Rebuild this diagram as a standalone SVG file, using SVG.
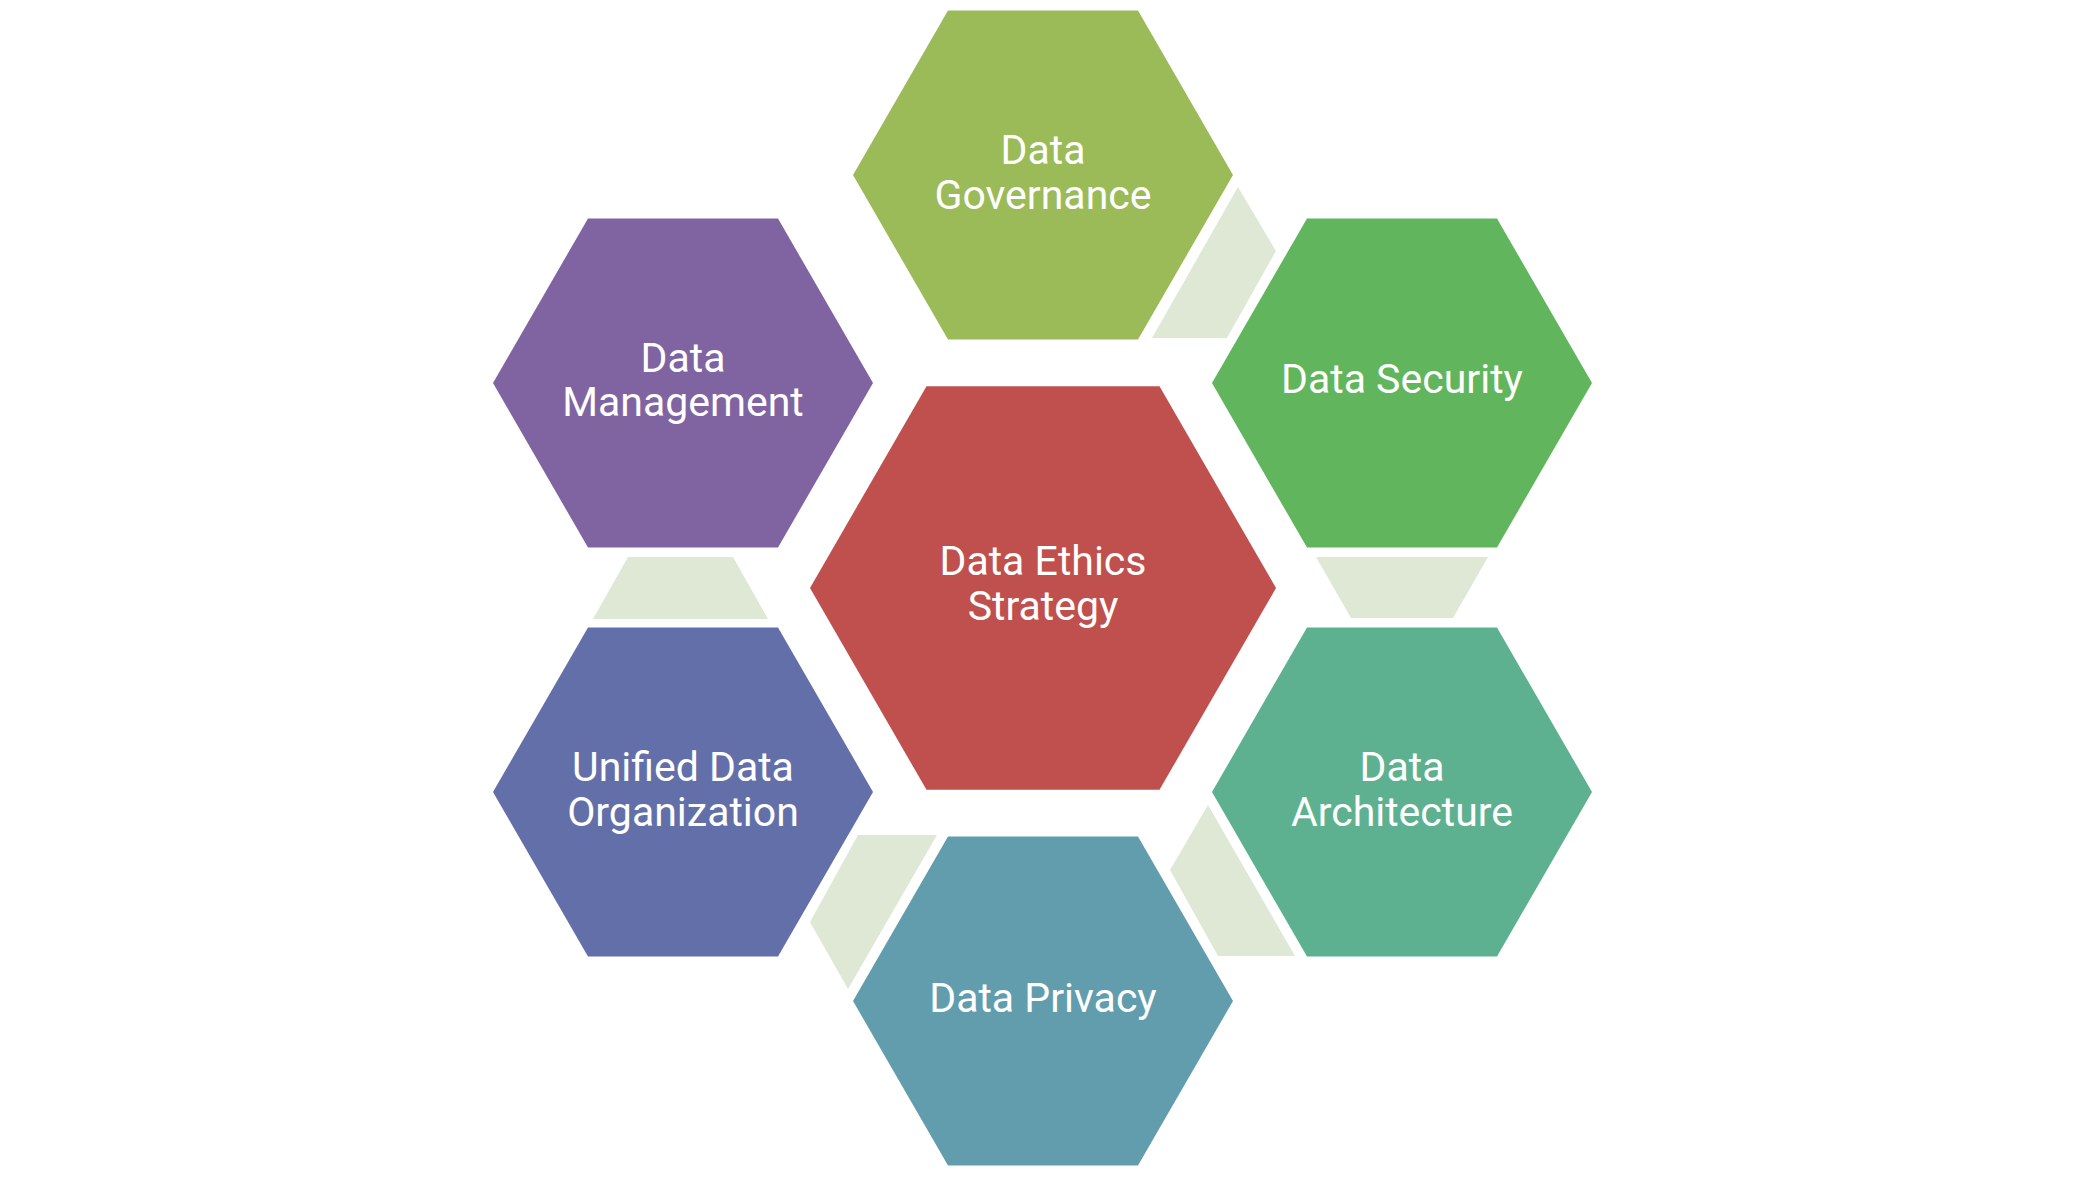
<svg xmlns="http://www.w3.org/2000/svg" width="2090" height="1182" viewBox="0 0 2090 1182">
<style>
text{font-family:Roboto,"Liberation Sans",sans-serif;font-size:41px;fill:#ffffff;text-anchor:middle}
.piece{fill:#DFE8D4}
</style>
<defs>
<polygon id="hex" points="-190,0 -95,-164.5 95,-164.5 190,0 95,164.5 -95,164.5"/>
</defs>
<rect width="2090" height="1182" fill="#ffffff"/>
<g id="connectors">
<polygon class="piece" points="1238,187 1276,251 1227,338 1152,338"/>
<polygon class="piece" points="1316,557 1488,557 1453,618 1351,618"/>
<polygon class="piece" points="628,557 733,557 768,619 593,619"/>
<polygon class="piece" points="858,835 937,835 848,989 810,922"/>
<polygon class="piece" points="1208,805 1295,956 1218,956 1170,870"/>
</g>
<g id="node-center">
<polygon points="810,588 926.5,386.2 1159.5,386.2 1276,588 1159.5,789.8 926.5,789.8" fill="#C0504D"/>
<text x="1043" y="575">Data Ethics</text>
<text x="1043" y="620">Strategy</text>
</g>
<g id="node-governance">
<use href="#hex" x="1043" y="175" fill="#9BBB59"/>
<text x="1043" y="164">Data</text>
<text x="1043" y="209">Governance</text>
</g>
<g id="node-security">
<use href="#hex" x="1402" y="383" fill="#61B65D"/>
<text x="1402" y="393">Data Security</text>
</g>
<g id="node-architecture">
<use href="#hex" x="1402" y="792" fill="#5EB190"/>
<text x="1402" y="781">Data</text>
<text x="1402" y="826">Architecture</text>
</g>
<g id="node-privacy">
<use href="#hex" x="1043" y="1001" fill="#629DAE"/>
<text x="1043" y="1012">Data Privacy</text>
</g>
<g id="node-unified">
<use href="#hex" x="683" y="792" fill="#636FA9"/>
<text x="683" y="781">Unified Data</text>
<text x="683" y="826">Organization</text>
</g>
<g id="node-management">
<use href="#hex" x="683" y="383" fill="#8064A2"/>
<text x="683" y="372">Data</text>
<text x="683" y="416">Management</text>
</g>
</svg>
